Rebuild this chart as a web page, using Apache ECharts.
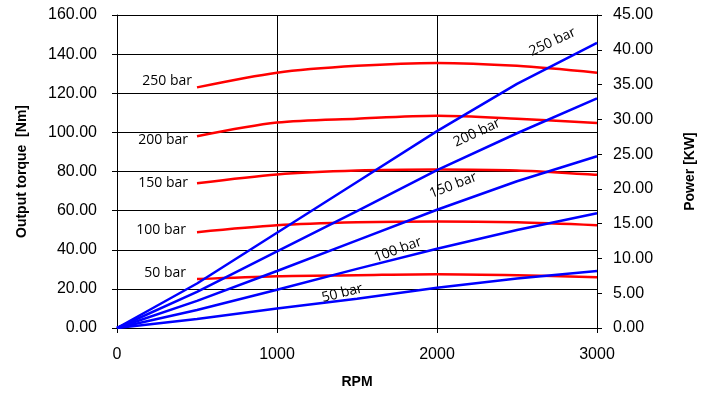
<!DOCTYPE html>
<html>
<head>
<meta charset="utf-8">
<script src="https://cdn.jsdelivr.net/npm/echarts@6/dist/echarts.min.js"></script>
<style>
  html, body { margin: 0; padding: 0; background: #fff; }
  #main { width: 715px; height: 399px; }
</style>
</head>
<body>
<div id="main"></div>
<script>
// data
const pressures = ['250 bar', '200 bar', '150 bar', '100 bar', '50 bar']
const torqueRpm = [500, 1000, 1500, 2000, 2500, 3000]
const powerRpm = [0, 500, 1000, 1500, 2000, 2500, 3000]

const torque250 = [123, 130.5, 134, 135.5, 134, 130.5]
const torque200 = [98, 105, 107, 108.5, 107, 104.8]
const torque150 = [74, 78.5, 80.5, 81, 80.5, 78.3]
const torque100 = [49, 52.5, 54, 54.5, 54, 52.5]
const torque50 = [25, 26.5, 27, 27.5, 27, 26]

const power250 = [0, 6.4, 13.7, 21.0, 28.3, 35.1, 41.0]
const power200 = [0, 5.2, 11.0, 16.8, 22.7, 28.0, 33.0]
const power150 = [0, 3.9, 8.2, 12.6, 17.0, 21.1, 24.7]
const power100 = [0, 2.6, 5.5, 8.5, 11.4, 14.1, 16.5]
const power50 = [0, 1.3, 2.8, 4.2, 5.8, 7.1, 8.2]

const torqueSets = [torque250, torque200, torque150, torque100, torque50]
const powerSets = [power250, power200, power150, power100, power50]

// where each label sits (index of the point it hangs on + nudge)
const torqueLabelStyle = [
  { offset: [0, -6], distance: 5 },
  { offset: [0, 4], distance: 9 },
  { offset: [0, 0], distance: 9 },
  { offset: [0, -2], distance: 11 },
  { offset: [0, -6], distance: 11 }
]
const powerLabelStyle = [
  { idx: 5, rotate: 25, offset: [50, -23] },
  { idx: 4, rotate: 25, offset: [52, -17] },
  { idx: 4, rotate: 21, offset: [24, -17] },
  { idx: 3, rotate: 20, offset: [45, -4] },
  { idx: 3, rotate: 14, offset: [-13, -9] }
]

const labelFont = { fontFamily: 'Open Sans', fontSize: 14, color: '#000' }

const myChart = echarts.init(document.getElementById('main'))

const series = []
torqueSets.forEach((vals, s) => {
  const st = torqueLabelStyle[s]
  series.push({
    name: 'T ' + pressures[s],
    type: 'line',
    yAxisIndex: 0,
    smooth: 0.3,
    symbol: 'circle',
    symbolSize: 0,
    lineStyle: { color: '#ff0000', width: 2.5 },
    itemStyle: { color: '#ff0000' },
    data: torqueRpm.map((r, i) => {
      const item = { value: [r, vals[i]] }
      if (i === 0) {
        item.label = Object.assign({
          show: true,
          position: 'left',
          distance: st.distance,
          offset: st.offset,
          formatter: pressures[s]
        }, labelFont)
      }
      return item
    }),
    z: 3
  })
})
powerSets.forEach((vals, s) => {
  const st = powerLabelStyle[s]
  series.push({
    name: 'P ' + pressures[s],
    type: 'line',
    yAxisIndex: 1,
    symbol: 'circle',
    symbolSize: 0,
    lineStyle: { color: '#0000ff', width: 2.5 },
    itemStyle: { color: '#0000ff' },
    data: powerRpm.map((r, i) => {
      const item = { value: [r, vals[i]] }
      if (i === st.idx) {
        item.label = Object.assign({
          show: true,
          position: 'inside',
          rotate: st.rotate,
          offset: st.offset,
          formatter: pressures[s]
        }, labelFont)
      }
      return item
    }),
    z: 4
  })
})

const option = {
  backgroundColor: '#fff',
  animation: false,
  grid: { left: 117, right: 118, top: 15, bottom: 71 },
  xAxis: {
    type: 'value',
    min: 0,
    max: 3000,
    interval: 1000,
    name: 'RPM',
    nameLocation: 'middle',
    nameGap: 47,
    nameTextStyle: { fontFamily: 'Liberation Sans', fontWeight: 'bold', fontSize: 14, color: '#000' },
    axisLine: { lineStyle: { color: '#000', width: 1 } },
    axisTick: { show: true, inside: false, length: 5, lineStyle: { color: '#000' } },
    axisLabel: { margin: 19, fontFamily: 'Liberation Sans', fontSize: 16, color: '#000', formatter: v => String(v) },
    splitLine: { show: true, lineStyle: { color: '#000', width: 1 } }
  },
  yAxis: [
    {
      type: 'value',
      min: 0,
      max: 160,
      interval: 20,
      name: 'Output torque  [Nm]',
      nameLocation: 'middle',
      nameGap: 88,
      nameTextStyle: { fontFamily: 'Liberation Sans', fontWeight: 'bold', fontSize: 14, color: '#000' },
      axisLine: { show: true, lineStyle: { color: '#000', width: 1 } },
      axisTick: { show: true, length: 5, lineStyle: { color: '#000' } },
      axisLabel: { margin: 20, fontFamily: 'Liberation Sans', fontSize: 16, color: '#000', formatter: v => v.toFixed(2) },
      splitLine: { show: true, lineStyle: { color: '#000', width: 1 } }
    },
    {
      type: 'value',
      min: 0,
      max: 45,
      interval: 5,
      name: 'Power [KW]',
      nameLocation: 'middle',
      nameGap: 86,
      nameTextStyle: { fontFamily: 'Liberation Sans', fontWeight: 'bold', fontSize: 14, color: '#000' },
      axisLine: { show: true, lineStyle: { color: '#000', width: 1 } },
      axisTick: { show: true, length: 5, lineStyle: { color: '#000' } },
      axisLabel: { margin: 16, fontFamily: 'Liberation Sans', fontSize: 16, color: '#000', formatter: v => v.toFixed(2) },
      splitLine: { show: false }
    }
  ],
  series: series
}

myChart.setOption(option)
</script>
</body>
</html>
